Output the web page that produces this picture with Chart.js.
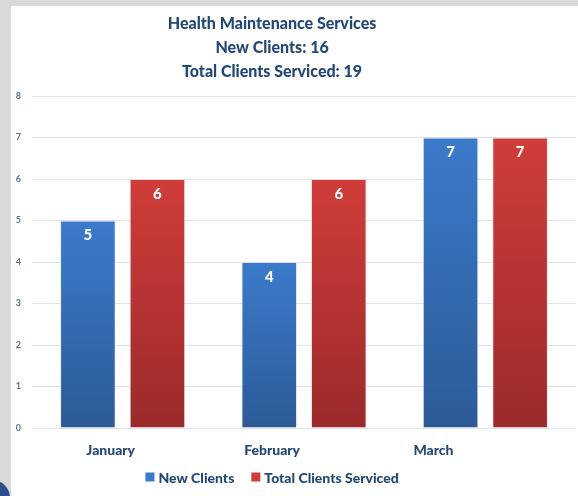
<!DOCTYPE html>
<html>
<head>
<meta charset="utf-8">
<script src="https://cdn.jsdelivr.net/npm/chart.js@4/dist/chart.umd.min.js"></script>
<style>
  html, body { margin: 0; padding: 0; }
  body { width: 578px; height: 496px; background: #d9d9d9; position: relative; overflow: hidden; }
  #panel { position: absolute; left: 11px; top: 6px; width: 567px; height: 490px; background: #fff; }
  #badge { position: absolute; left: -26px; top: 480px; width: 36px; height: 36px; border-radius: 50%; background: #2d4f8e; }
</style>
</head>
<body>
<div id="badge"></div>
<div id="panel"><canvas id="chart" width="567" height="490"></canvas></div>
<script>
// Data
const months = ["January", "February", "March"];
const newClients = [5, 4, 7];
const totalServiced = [6, 6, 7];
const seriesNames = ["New Clients", "Total Clients Serviced"];
const titleLines = ["Health Maintenance Services", "New Clients: 16", "Total Clients Serviced: 19"];
const yMax = 8;

const navy = "#234878";
const blueTop = "#3b7bcb", blueBottom = "#2c5a96";
const redTop = "#d03d39", redBottom = "#9b2a2b";

// gradient per bar, from its top down to the zero line
function barGradient(top, bottom) {
  return ctx => {
    const chart = ctx.chart;
    const y = chart.scales.y;
    if (!chart.chartArea || !y || ctx.raw == null) return top;
    const g = chart.ctx.createLinearGradient(0, y.getPixelForValue(ctx.raw), 0, y.getPixelForValue(0));
    g.addColorStop(0, top);
    g.addColorStop(1, bottom);
    return g;
  };
}

// text layer (title, bar values, month labels, legend)
const textLayer = {
  id: "textLayer",
  afterDraw(chart) {
    const c = chart.ctx;
    const area = chart.chartArea;
    const x = chart.scales.x;
    const squeeze = 0.89;
    const mapX = px => area.left - 2 + (px - area.left) * squeeze;
    const mid = mapX((area.left + area.right) / 2);

    c.save();
    c.textAlign = "center";
    c.textBaseline = "middle";

    // title
    c.fillStyle = navy;
    c.font = "900 16px Lato";
    titleLines.forEach((t, i) => c.fillText(t, mid, 18 + i * 24));

    // values inside bars
    c.fillStyle = "#fff";
    c.font = "900 15px Lato";
    chart.data.datasets.forEach((ds, di) => {
      chart.getDatasetMeta(di).data.forEach((bar, i) => {
        c.fillText(String(ds.data[i]), bar.x, bar.y + 15);
      });
    });

    // month labels
    c.fillStyle = navy;
    c.font = "900 14px Lato";
    months.forEach((m, i) => c.fillText(m, mapX(x.getPixelForTick(i)), area.bottom + 22));

    // legend
    c.textAlign = "left";
    const box = 9, gapText = 4, gapItem = 17;
    const widths = seriesNames.map(n => c.measureText(n).width);
    const total = box + gapText + widths[0] + gapItem + box + gapText + widths[1];
    let lx = mid - total / 2;
    const ly = area.bottom + 49;
    const colors = [blueTop, redTop];
    seriesNames.forEach((n, i) => {
      c.fillStyle = colors[i];
      c.fillRect(lx, ly - box / 2, box, box);
      c.fillStyle = navy;
      c.fillText(n, lx + box + gapText, ly + 1);
      lx += box + gapText + widths[i] + gapItem;
    });
    c.restore();
  }
};

new Chart(document.getElementById("chart").getContext("2d"), {
  type: "bar",
  data: {
    labels: months,
    datasets: [
      { label: seriesNames[0], data: newClients, backgroundColor: barGradient(blueTop, blueBottom), borderColor: "rgba(220,225,235,0.7)", borderWidth: 1 },
      { label: seriesNames[1], data: totalServiced, backgroundColor: barGradient(redTop, redBottom), borderColor: "rgba(235,215,215,0.7)", borderWidth: 1 }
    ]
  },
  options: {
    responsive: false,
    animation: false,
    layout: { padding: { top: 90, right: 2, left: 0, bottom: 0 } },
    datasets: { bar: { categoryPercentage: 0.767, barPercentage: 0.8 } },
    plugins: {
      legend: { display: false },
      title: { display: false },
      tooltip: { enabled: false }
    },
    scales: {
      x: {
        grid: { display: false },
        border: { display: false },
        ticks: { display: false },
        afterFit: s => { s.height = 68; }
      },
      y: {
        min: 0,
        max: yMax,
        ticks: { stepSize: 1, padding: 11, color: "#5b7093", font: { family: "Lato", size: 9, weight: "bold" } },
        grid: { color: "#dbe5f1", lineWidth: 1, drawTicks: false },
        border: { display: false },
        afterFit: s => { s.width = 21; }
      }
    }
  },
  plugins: [textLayer]
});
</script>
</body>
</html>
